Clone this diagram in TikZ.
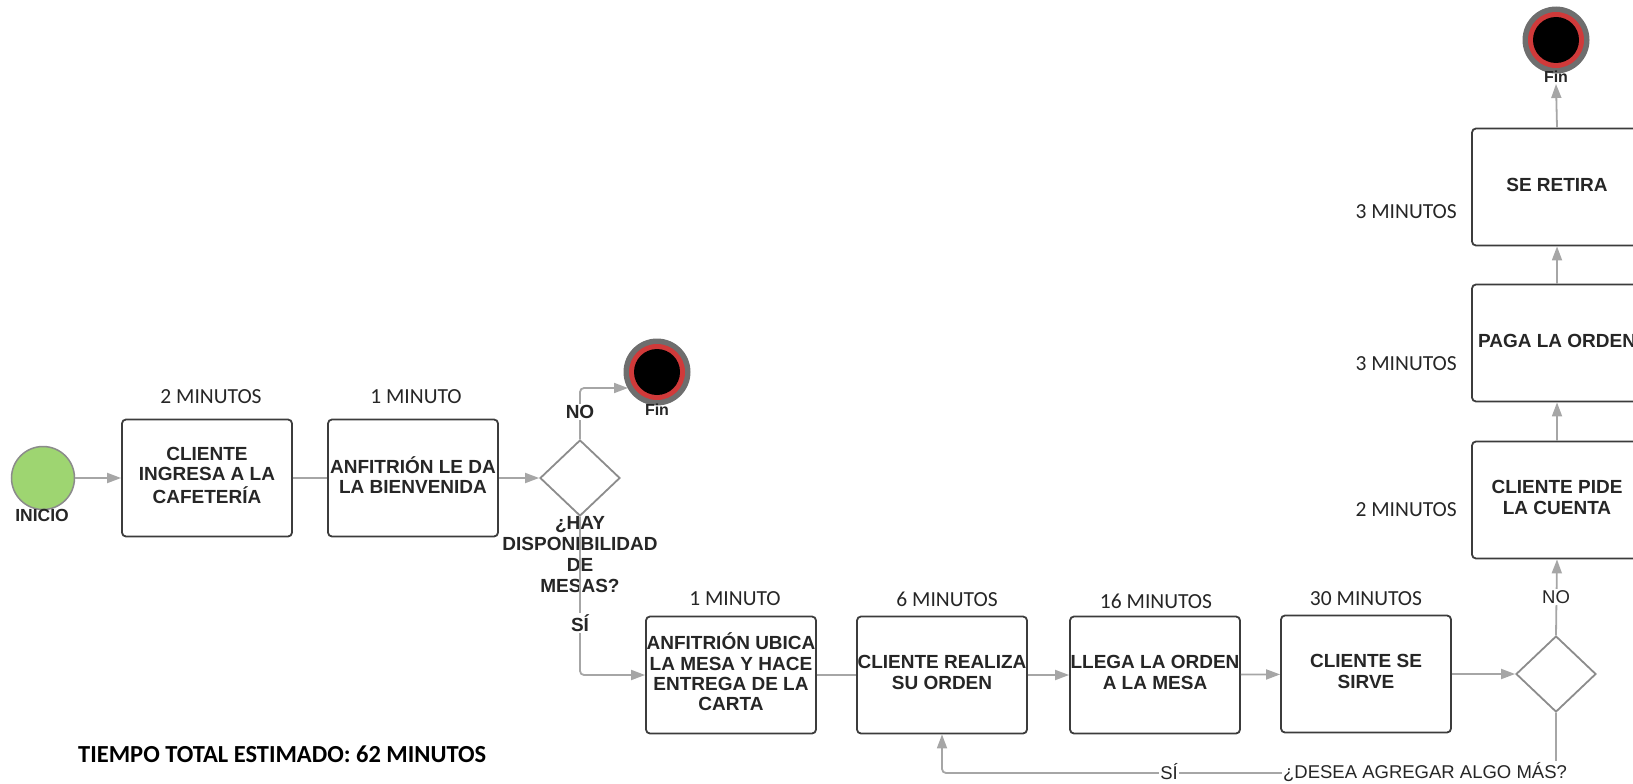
\documentclass[tikz,border=0pt]{standalone}
\usepackage{fontspec}
\setmainfont{Liberation Sans}
\newfontfamily\calfont{Carlito}
\usetikzlibrary{arrows.meta,shapes.geometric}
\definecolor{boxc}{HTML}{3C3C3C}
\definecolor{lnc}{HTML}{A6A6A6}
\definecolor{dmc}{HTML}{8C8C8C}
\definecolor{txt}{HTML}{262626}
\definecolor{startg}{HTML}{9ED571}
\definecolor{endred}{HTML}{D03A3A}
\definecolor{endgray}{HTML}{6E6E6E}
\newcommand{\bxt}[1]{\begin{tabular}{@{}c@{}}#1\end{tabular}}
\begin{document}
\begin{tikzpicture}[x=1pt,y=-1pt,
  proc/.style={draw=boxc, line width=1.8pt, rounded corners=4pt, minimum width=170pt, minimum height=117pt, align=center, inner sep=0pt, text=txt, font=\fontsize{19}{20.3}\selectfont\bfseries},
  dec/.style={draw=dmc, line width=1.8pt, shape=diamond, minimum width=80pt, minimum height=76pt, inner sep=0pt},
  mins/.style={font=\calfont\fontsize{21.5}{23}\selectfont, text=txt, inner sep=0pt},
  lbl/.style={font=\fontsize{19}{21}\selectfont\bfseries, text=txt, inner sep=1pt, align=center},
  lblr/.style={font=\fontsize{18.5}{21}\selectfont, text=txt, inner sep=1pt, fill=white},
  ln/.style={draw=lnc, line width=1.8pt},
  arr/.style={draw=lnc, line width=1.8pt, -{Triangle[length=14pt,width=10pt]}, color=lnc},
  endc/.style={circle, fill=endgray, minimum size=67pt, inner sep=0pt, path picture={
      \fill[endred] (path picture bounding box.center) circle[radius=28pt];
      \fill[black] (path picture bounding box.center) circle[radius=23pt];}}
]
\useasboundingbox (0,0) rectangle (1633,784);
\clip (0,0) rectangle (1633,784);

% start
\node[circle, draw=endgray!80, line width=1.5pt, fill=startg, minimum size=63pt, inner sep=0pt] (s) at (43,478) {};
\node[lbl, font=\fontsize{17.5}{20}\selectfont\bfseries] (inicio) at (42,515) {INICIO};

% row 1
\node[proc] (b1) at (207,478) {\bxt{CLIENTE\\INGRESA A LA\\CAFETERÍA}};
\node[proc] (b2) at (413,478) {\bxt{ANFITRIÓN LE DA\\LA BIENVENIDA}};
\node[mins] (m1) at (211,397) {2 MINUTOS};
\node[mins] (m2) at (416,397) {1 MINUTO};
\node[dec] (d1) at (580,478) {};
\node[lbl] (q1) at (580,555) {¿HAY\\DISPONIBILIDAD\\DE\\MESAS?};

% end 1
\node[endc] (e1) at (657,372) {};
\node[lbl, font=\fontsize{16}{18}\selectfont\bfseries] (fin1) at (657,410) {Fin};
\coordinate (ta) at (628,388);

% row 2
\node[proc] (b3) at (731,675) {\bxt{ANFITRIÓN UBICA\\LA MESA Y HACE\\ENTREGA DE LA\\CARTA}};
\node[proc] (b4) at (942,675) {\bxt{CLIENTE REALIZA\\SU ORDEN}};
\node[proc] (b5) at (1155,675) {\bxt{LLEGA LA ORDEN\\A LA MESA}};
\node[proc] (b6) at (1366,674) {\bxt{CLIENTE SE\\SIRVE}};
\node[mins] (m3) at (735,599) {1 MINUTO};
\node[mins] (m4) at (947,599) {6 MINUTOS};
\node[mins] (m5) at (1156,601) {16 MINUTOS};
\node[mins] (m6) at (1366,599) {30 MINUTOS};
\node[dec] (d2) at (1556,674) {};

% column
\node[proc] (b7) at (1557,500) {\bxt{CLIENTE PIDE\\LA CUENTA}};
\node[proc] (b8) at (1557,343) {\bxt{PAGA LA ORDEN}};
\node[proc] (b9) at (1557,187) {\bxt{SE RETIRA}};
\node[mins, anchor=east] (m7) at (1457,510) {2 MINUTOS};
\node[mins, anchor=east] (m8) at (1457,364) {3 MINUTOS};
\node[mins, anchor=east] (m9) at (1457,212) {3 MINUTOS};
\node[endc] (e2) at (1556,40) {};
\node[lbl, font=\fontsize{16}{18}\selectfont\bfseries] (fin2) at (1556,77) {Fin};

% loop corner
\coordinate (k3) at (1556,773);

% connectors
\draw[arr] (s) -- (b1);
\draw[ln] (b1) -- (b2);
\draw[arr] (b2) -- (d1);
\draw[arr, rounded corners=4pt] (d1.north) |- (ta);
\node[lbl, fill=white] (no1) at (580,412) {NO};
\draw[arr, rounded corners=4pt] (d1.south) |- (b3.west);
\node[lbl, fill=white] (si1) at (580,623) {SÍ};
\draw[ln] (b3) -- (b4);
\draw[arr] (b4) -- (b5);
\draw[arr] (b5) -- (b6);
\draw[arr] (b6) -- (d2);
\draw[arr] (d2.north) -- (b7.south);
\node[lblr] (no2) at (1556,597) {NO};
\draw[arr] (b7) -- (b8);
\draw[arr] (b8) -- (b9);
\draw[arr] (b9.north) -- (fin2.south);
\draw[arr, rounded corners=4pt] (d2.south) -- (k3) -| (b4.south);
\node[lblr] (q2) at (1425,772) {¿DESEA AGREGAR ALGO MÁS?};
\node[lblr] (si2) at (1169,772) {SÍ};

% total
\node[font=\calfont\bfseries\fontsize{24.5}{27}\selectfont, text=black, anchor=west, inner sep=0pt] (tot) at (78,754) {TIEMPO TOTAL ESTIMADO: 62 MINUTOS};
\end{tikzpicture}
\end{document}
